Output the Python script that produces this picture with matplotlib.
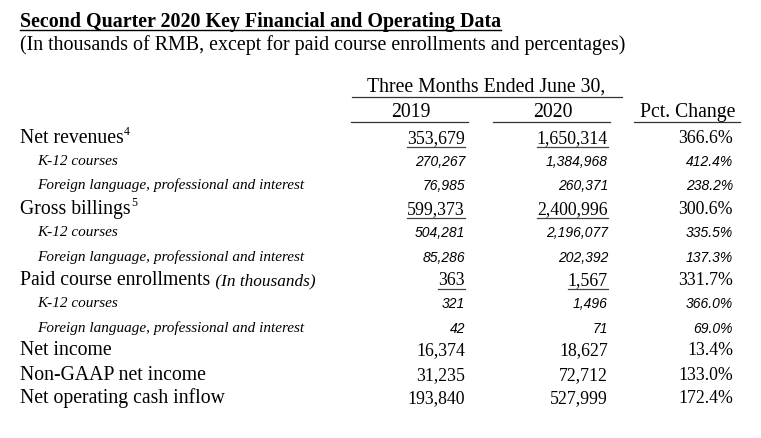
import matplotlib
matplotlib.use("Agg")
import matplotlib.pyplot as plt

title = "Second Quarter 2020 Key Financial and Operating Data"
subtitle = "(In thousands of RMB, except for paid course enrollments and percentages)"
period_header = "Three Months Ended June 30,"
col_headers = ["2019", "2020", "Pct. Change"]

labels = ["Net revenues", "K-12 courses", "Foreign language, professional and interest",
          "Gross billings", "K-12 courses", "Foreign language, professional and interest",
          "Paid course enrollments", "K-12 courses", "Foreign language, professional and interest",
          "Net income", "Non-GAAP net income", "Net operating cash inflow"]
label_notes = ["4", "", "", "5", "", "", "", "", "", "", "", ""]
label_suffix = ["", "", "", "", "", "", " (In thousands)", "", "", "", "", ""]
is_sub = [0, 1, 1, 0, 1, 1, 0, 1, 1, 0, 0, 0]
underlined = [1, 0, 0, 1, 0, 0, 1, 0, 0, 0, 0, 0]
v2019 = [353679, 270267, 76985, 599373, 504281, 85286, 363, 321, 42, 16374, 31235, 193840]
v2020 = [1650314, 1384968, 260371, 2400996, 2196077, 202392, 1567, 1496, 71, 18627, 72712, 527999]
pct = [366.6, 412.4, 238.2, 300.6, 335.5, 137.3, 331.7, 366.0, 69.0, 13.4, 133.0, 172.4]

SERIF = "Liberation Serif"
SANS = "Liberation Sans"
LBL = 14.2
NUM = 12.8
HDR = 14.2
SUBLBL = 11.0
SUBNUM = 10.0

fig = plt.figure(figsize=(7.61, 4.38), dpi=100)
ax = fig.add_axes([0, 0, 1, 1])
ax.set_xlim(0, 761)
ax.set_ylim(438, 0)
ax.axis("off")
r = fig.canvas.get_renderer()
inv = ax.transData.inverted()


def xspan(t):
    bb = t.get_window_extent(renderer=r)
    (x0, _), (x1, _) = inv.transform([[bb.x0, bb.y0], [bb.x1, bb.y1]])
    return x0, x1


# title + subtitle
t = ax.text(20, 27, title, family=SERIF, weight="bold", fontsize=14.4, va="baseline")
x0, x1 = xspan(t)
ax.plot([x0, x1], [30, 30], color="black", lw=1.0)
ax.text(20, 50, subtitle, family=SERIF, fontsize=14.4, va="baseline")

# column headers
ax.text(486, 92, period_header, family=SERIF, fontsize=HDR, va="baseline", ha="center")
ax.plot([352, 622], [97, 97], color="#333333", lw=0.9)
col_spans = [(351, 468), (493, 610), (634, 740)]
for h, (a, b) in zip(col_headers, col_spans):
    ax.text((a + b) / 2 + 1, 117, h, family=SERIF, fontsize=HDR, va="baseline", ha="center")
    ax.plot([a, b], [121.5, 121.5], color="#333333", lw=0.9)

baselines = [143, 166, 190, 214, 237, 262, 285, 308, 333, 355, 380, 403]
right_edges = [465, 608, 733]

for i, y in enumerate(baselines):
    if is_sub[i]:
        ax.text(37, y - 1, labels[i], family=SERIF, style="italic", fontsize=SUBLBL, va="baseline")
        nkw = dict(family=SANS, style="italic", fontsize=SUBNUM, va="baseline", ha="right")
    else:
        t = ax.text(20, y, labels[i], family=SERIF, fontsize=LBL, va="baseline")
        x0, x1 = xspan(t)
        if label_notes[i]:
            ax.text(x1 + 0.5, y - 8, label_notes[i], family=SERIF, fontsize=8.5, va="baseline")
        if label_suffix[i]:
            ax.text(x1 + 1, y, label_suffix[i], family=SERIF, style="italic", fontsize=12.4, va="baseline")
        nkw = dict(family=SERIF, fontsize=NUM, va="baseline", ha="right")
    vals = [f"{v2019[i]:,}", f"{v2020[i]:,}", f"{pct[i]:.1f}%"]
    for j, (s, xr) in enumerate(zip(vals, right_edges)):
        t = ax.text(xr, y, s, **nkw)
        if underlined[i] and j < 2:
            a, b = xspan(t)
            ax.plot([a, b], [y + 4, y + 4], color="#444444", lw=0.9)

fig.savefig("out.png", dpi=100)
